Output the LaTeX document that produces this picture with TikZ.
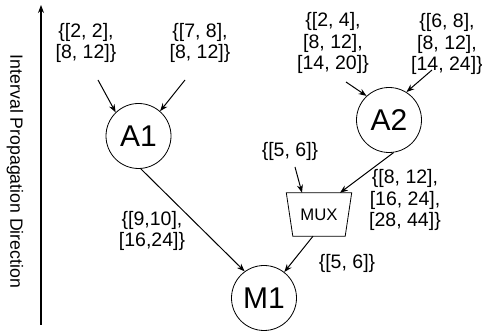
\documentclass[tikz,border=0pt]{standalone}
\usepackage{fontspec}
\setmainfont{Liberation Sans}
\usepackage{tikz}
\usetikzlibrary{shapes.geometric, arrows.meta, positioning, calc}

\tikzset{
    opnode/.style={draw, circle, line width=0.8pt, minimum size=65pt, inner sep=0pt, font=\fontsize{30}{32}\selectfont},
    muxnode/.style={rectangle, minimum width=65pt, minimum height=43pt, inner sep=0pt, font=\fontsize{16.7}{18}\selectfont},
    interval/.style={align=center, inner sep=0pt, font=\fontsize{19.5}{21.7}\selectfont},
    flow/.style={-{Stealth[length=8pt, width=6pt]}, line width=1pt}
}

\begin{document}
\begin{tikzpicture}[x=1pt, y=-1pt]
    \useasboundingbox (0,0) rectangle (482,336);

    % Eixo
    \coordinate (axisbot) at (41,325);
    \coordinate (axistop) at (41,5);
    \draw[-{Stealth[length=8pt, width=6pt]}, line width=1.2pt] (axisbot) -- (axistop);
    \node[rotate=-90, inner sep=0pt, font=\fontsize{17.7}{19}\selectfont] (axislabel) at (15,171.5) {Interval Propagation Direction};

    % Operadores
    \node[opnode] (A1) at (138.5,136) {A1};
    \node[opnode] (A2) at (389,120) {A2};
    \node[opnode] (M1) at (264,298) {M1};
    \node[muxnode] (mux) at (319,214.5) {MUX};
    \draw[line width=0.8pt] (mux.north west) -- (mux.north east) -- ($(mux.south east)+(-6.5,0)$)
        -- ($(mux.south west)+(6.5,0)$) -- cycle;

    % Intervalos de entrada
    \node[interval] (inA1a) at (86,43) {\{[2, 2],\\{}[8, 12]\}};
    \node[interval] (inA1b) at (200,43) {\{[7, 8],\\{}[8, 12]\}};
    \node[interval] (inA2a) at (333,43) {\{[2, 4],\\{}[8, 12],\\{}[14, 20]\}};
    \node[interval] (inA2b) at (447,44) {\{[6, 8],\\{}[8, 12],\\{}[14, 24]\}};
    \node[interval] (inmux) at (290,151) {\{[5, 6]\}};

    % Intervalos propagados
    \node[interval] (outA1) at (152,231) {\{[9,10],\\{}[16,24]\}};
    \node[interval] (outA2) at (405,200) {\{[8, 12],\\{}[16, 24],\\{}[28, 44]\}};
    \node[interval] (outmux) at (347,263) {\{[5, 6]\}};

    % Pontos de partida das setas
    \coordinate (sA1a) at (98,80);
    \coordinate (sA1b) at (185,80);
    \coordinate (sA2a) at (346,82);
    \coordinate (sA2b) at (432,70);
    \coordinate (smux) at (295,167);

    % Setas
    \draw[flow] (sA1a) -- (A1.134);
    \draw[flow] (sA1b) -- (A1.49);
    \draw[flow] (sA2a) -- (A2.133);
    \draw[flow] (sA2b) -- (A2.58);
    \draw[flow] (smux) -- ($(mux.north)+(-17,0)$);
    \draw[flow] (A2.-82) -- ($(mux.north)+(21,0)$);
    \draw[flow] (A1.-86) -- (M1.126);
    \draw[flow] ($(mux.south)+(-6,0)$) -- (M1.52);
\end{tikzpicture}
\end{document}
